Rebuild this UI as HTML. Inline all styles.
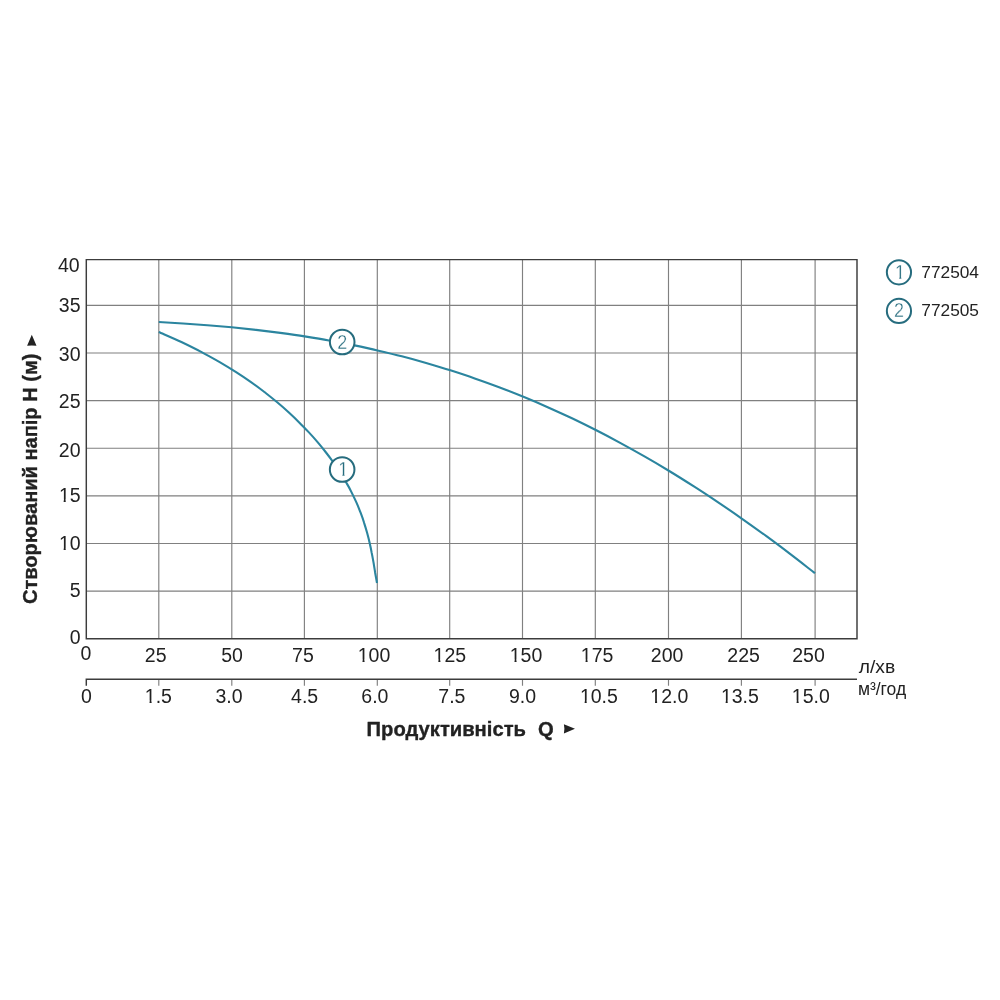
<!DOCTYPE html>
<html lang="uk">
<head>
<meta charset="utf-8">
<title>Графік продуктивності</title>
<style>
html,body{margin:0;padding:0;background:#fff;}
body{width:1000px;height:1000px;overflow:hidden;}
svg{display:block;}
text{font-family:"Liberation Sans",sans-serif;fill:#222222;}
.t{font-size:19.5px;}
.b{font-weight:bold;font-size:20.2px;stroke:#222222;stroke-width:0.35px;stroke-linejoin:round;}
.u{font-size:17.5px;}
.l{font-size:17.3px;}
.c{font-size:19.5px;fill:#266c7e;stroke:#fff;stroke-width:0.3px;paint-order:fill stroke;}
</style>
</head>
<body>
<svg xmlns="http://www.w3.org/2000/svg" width="1000" height="1000" viewBox="0 0 1000 1000">
<defs><clipPath id="k"><path d="M-9 -20H9V-2H1.4V1H-0.7V-2H-9Z"/></clipPath><clipPath id="f"><path clip-rule="evenodd" d="M-2 -20H60V6H-2Z M0 -2.4H4.75V1H0Z M6.8 -2.4H10.7V1H6.8Z"/></clipPath></defs>
<rect width="1000" height="1000" fill="#fff"/>
<path d="M158.80 259.6 V638.8 M231.80 259.6 V638.8 M304.40 259.6 V638.8 M377.30 259.6 V638.8 M449.70 259.6 V638.8 M522.50 259.6 V638.8 M595.30 259.6 V638.8 M668.50 259.6 V638.8 M741.40 259.6 V638.8 M815.10 259.6 V638.8 M86.3 591.17 H857.0 M86.3 543.54 H857.0 M86.3 495.91 H857.0 M86.3 448.28 H857.0 M86.3 400.65 H857.0 M86.3 353.02 H857.0 M86.3 305.39 H857.0 M158.80 679.3 V685.8 M231.80 679.3 V685.8 M304.40 679.3 V685.8 M377.30 679.3 V685.8 M449.70 679.3 V685.8 M522.50 679.3 V685.8 M595.30 679.3 V685.8 M668.50 679.3 V685.8 M741.40 679.3 V685.8 M815.10 679.3 V685.8" fill="none" stroke="#808080" stroke-width="1.15"/>
<path d="M86.3 259.6 H857.0 V638.8 H86.3 Z M86.3 685.8 V679.3 H857.0" fill="none" stroke="#3c3c3c" stroke-width="1.45"/>
<path d="M158.8 332.0C162.6 333.7 174.3 338.7 181.4 342.0C188.5 345.4 195.2 348.7 201.6 352.1C207.9 355.4 213.9 358.8 219.7 362.1C225.5 365.5 230.9 368.8 236.1 372.2C241.3 375.5 246.3 378.9 251.0 382.2C255.8 385.5 260.3 388.9 264.7 392.2C269.0 395.6 273.2 398.9 277.2 402.3C281.2 405.6 285.0 409.0 288.6 412.3C292.3 415.7 295.8 419.0 299.2 422.4C302.6 425.7 305.8 429.1 308.9 432.4C312.0 435.7 315.0 439.1 317.8 442.4C320.7 445.8 323.4 449.1 326.0 452.5C328.6 455.8 331.1 459.2 333.5 462.5C335.9 465.9 338.1 469.2 340.3 472.6C342.4 475.9 344.4 479.3 346.3 482.6C348.3 485.9 350.1 489.3 351.7 492.6C353.4 496.0 355.0 499.3 356.5 502.7C358.0 506.0 359.3 509.4 360.6 512.7C361.9 516.1 363.1 519.4 364.1 522.8C365.2 526.1 366.2 529.5 367.1 532.8C368.0 536.1 368.9 539.5 369.6 542.8C370.4 546.2 371.1 549.5 371.7 552.9C372.4 556.2 373.0 559.6 373.6 562.9C374.1 566.3 374.7 569.6 375.2 573.0C375.8 576.3 376.7 581.3 377.0 583.0" fill="none" stroke="#2b859f" stroke-width="2.1"/>
<path d="M158.8 322.0C162.9 322.2 175.0 322.9 183.1 323.5C191.2 324.0 199.3 324.6 207.4 325.2C215.5 325.9 223.6 326.6 231.7 327.3C239.8 328.1 247.9 329.0 256.0 329.9C264.1 330.8 272.2 331.8 280.3 332.9C288.4 334.0 296.5 335.1 304.6 336.4C312.7 337.7 320.8 339.0 328.9 340.5C337.0 341.9 345.1 343.5 353.2 345.1C361.3 346.8 369.4 348.5 377.5 350.4C385.6 352.3 393.7 354.2 401.8 356.3C409.9 358.4 418.0 360.6 426.1 362.9C434.2 365.3 442.3 367.7 450.4 370.3C458.5 372.9 466.6 375.5 474.7 378.4C482.8 381.2 491.0 384.1 499.1 387.2C507.2 390.3 515.3 393.5 523.4 396.8C531.5 400.1 539.6 403.6 547.7 407.2C555.8 410.8 563.9 414.5 572.0 418.3C580.1 422.2 588.2 426.2 596.3 430.3C604.4 434.4 612.5 438.7 620.6 443.1C628.7 447.5 636.8 452.0 644.9 456.7C653.0 461.3 661.1 466.1 669.2 471.0C677.3 475.9 685.4 481.0 693.5 486.2C701.6 491.3 709.7 496.7 717.8 502.1C725.9 507.5 734.0 513.1 742.1 518.8C750.2 524.5 758.3 530.3 766.4 536.2C774.5 542.1 782.6 548.2 790.7 554.4C798.8 560.5 810.9 570.1 815.0 573.2" fill="none" stroke="#2b859f" stroke-width="2.1"/>
<circle cx="342.2" cy="342.0" r="12.3" fill="#fff" stroke="#266c7e" stroke-width="2"/><text class="c" transform="translate(342.20 348.50) scale(0.92 1)" text-anchor="middle">2</text>
<circle cx="342.15" cy="469.5" r="12.3" fill="#fff" stroke="#266c7e" stroke-width="2"/><text class="c" transform="translate(343.15 476.00) scale(0.92 1)" text-anchor="middle" clip-path="url(#k)">1</text>
<circle cx="898.95" cy="272.3" r="12.1" fill="#fff" stroke="#266c7e" stroke-width="2"/><text class="c" transform="translate(899.95 278.80) scale(0.92 1)" text-anchor="middle" clip-path="url(#k)">1</text>
<circle cx="898.95" cy="310.9" r="12.1" fill="#fff" stroke="#266c7e" stroke-width="2"/><text class="c" transform="translate(898.95 317.40) scale(0.92 1)" text-anchor="middle">2</text>
<text class="l" x="921.3" y="277.75">772504</text>
<text class="l" x="921.3" y="315.85">772505</text>
<text class="t" x="58.01" y="272.1">40</text>
<text class="t" x="58.81" y="312.45">35</text>
<text class="t" x="58.81" y="361.2">30</text>
<text class="t" x="58.81" y="408.0">25</text>
<text class="t" x="58.81" y="456.8">20</text>
<text class="t" transform="translate(58.91 501.55)" clip-path="url(#f)">15</text>
<text class="t" transform="translate(58.91 550.4)" clip-path="url(#f)">10</text>
<text class="t" x="69.76" y="596.95">5</text>
<text class="t" x="69.66" y="643.7">0</text>
<text class="t" x="80.50" y="659.75">0</text>
<text class="t" x="144.80" y="661.9">25</text>
<text class="t" x="221.15" y="661.9">50</text>
<text class="t" x="292.07" y="661.9">75</text>
<text class="t" transform="translate(357.75 661.9)" clip-path="url(#f)">100</text>
<text class="t" transform="translate(433.60 661.9)" clip-path="url(#f)">125</text>
<text class="t" transform="translate(509.75 661.9)" clip-path="url(#f)">150</text>
<text class="t" transform="translate(580.80 661.9)" clip-path="url(#f)">175</text>
<text class="t" x="650.80" y="661.9">200</text>
<text class="t" x="727.35" y="661.9">225</text>
<text class="t" x="792.20" y="661.9">250</text>
<text class="t" x="81.00" y="703.0">0</text>
<text class="t" transform="translate(144.80 703.0)" clip-path="url(#f)">1.5</text>
<text class="t" x="215.45" y="703.0">3.0</text>
<text class="t" x="291.10" y="703.0">4.5</text>
<text class="t" x="361.30" y="703.0">6.0</text>
<text class="t" x="438.35" y="703.0">7.5</text>
<text class="t" x="508.90" y="703.0">9.0</text>
<text class="t" transform="translate(579.90 703.0)" clip-path="url(#f)">10.5</text>
<text class="t" transform="translate(650.30 703.0)" clip-path="url(#f)">12.0</text>
<text class="t" transform="translate(720.90 703.0)" clip-path="url(#f)">13.5</text>
<text class="t" transform="translate(791.85 703.0)" clip-path="url(#f)">15.0</text>
<text class="u" transform="translate(858.7 673.1) scale(1.1 1)">л/хв</text>
<text class="u" x="857.9" y="694.7">м³/год</text>
<text class="b" x="366.6" y="735.8">Продуктивність</text>
<text class="b" x="538.0" y="735.8">Q</text>
<path d="M575 728.8 L563.9 724.2 L564.4 728.8 L563.9 733.4 Z" fill="#222222"/>
<text class="b" transform="translate(36.7 604.0) rotate(-90)" x="0" y="0" textLength="250.4" lengthAdjust="spacingAndGlyphs">Створюваний напір H (м)</text>
<path d="M31.8 334.8 L27.1 345.8 L31.8 345.4 L36.5 345.8 Z" fill="#222222"/>
</svg>
</body>
</html>
